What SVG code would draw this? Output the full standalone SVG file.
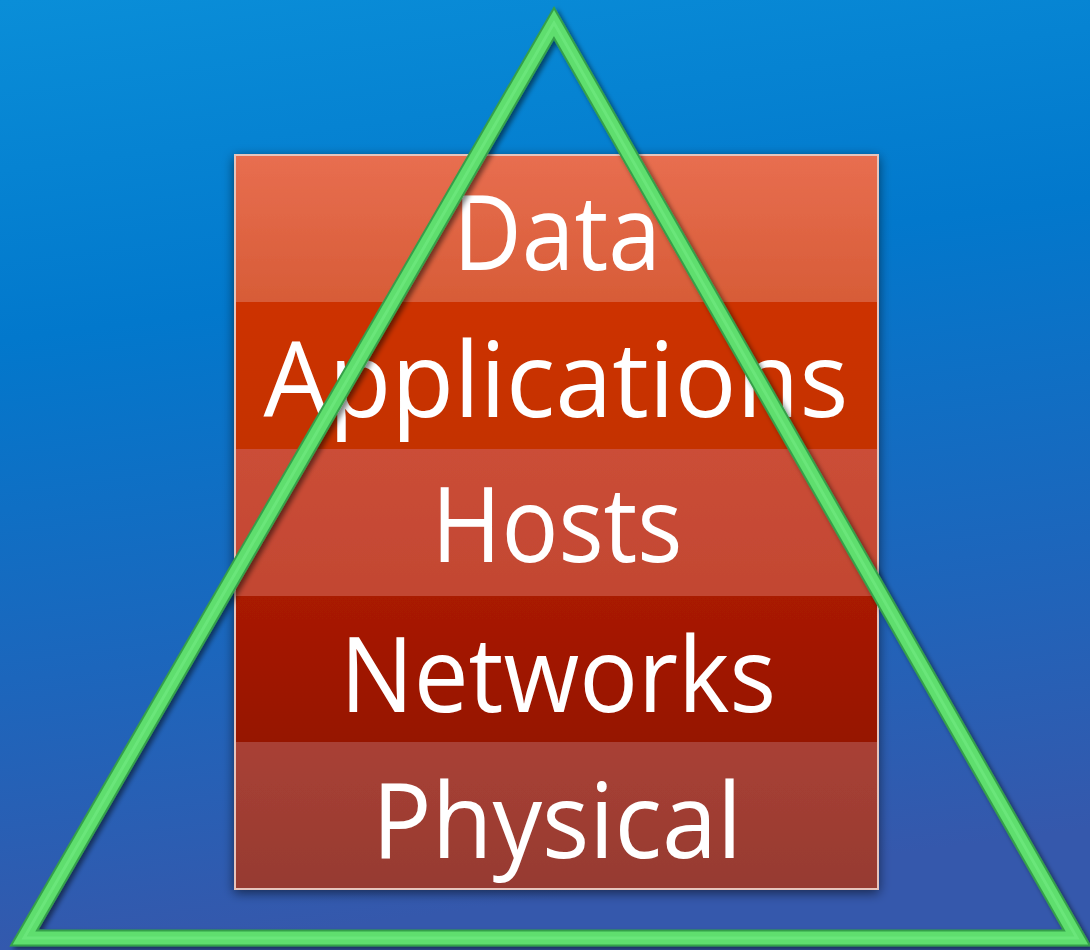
<svg xmlns="http://www.w3.org/2000/svg" width="1090" height="950" viewBox="0 0 1090 950">
  <defs>
    <linearGradient id="bg" x1="0" y1="0" x2="0.15" y2="1">
      <stop offset="0" stop-color="#0a8ed8"/>
      <stop offset="0.35" stop-color="#0278cc"/>
      <stop offset="0.7" stop-color="#1c66bc"/>
      <stop offset="1" stop-color="#3558ac"/>
    </linearGradient>
    <linearGradient id="band1" x1="0" y1="0" x2="0" y2="1">
      <stop offset="0" stop-color="#e86e50"/>
      <stop offset="1" stop-color="#d75c37"/>
    </linearGradient>
    <linearGradient id="band2" x1="0" y1="0" x2="0" y2="1">
      <stop offset="0" stop-color="#cd3300"/>
      <stop offset="1" stop-color="#c43000"/>
    </linearGradient>
    <linearGradient id="band3" x1="0" y1="0" x2="0" y2="1">
      <stop offset="0" stop-color="#cb4e37"/>
      <stop offset="1" stop-color="#c24632"/>
    </linearGradient>
    <linearGradient id="band4" x1="0" y1="0" x2="0" y2="1">
      <stop offset="0" stop-color="#a91a00"/>
      <stop offset="1" stop-color="#961400"/>
    </linearGradient>
    <linearGradient id="band5" x1="0" y1="0" x2="0" y2="1">
      <stop offset="0" stop-color="#a94135"/>
      <stop offset="1" stop-color="#963a31"/>
    </linearGradient>
    <filter id="boxShadow" x="-10%" y="-10%" width="120%" height="120%">
      <feGaussianBlur in="SourceAlpha" stdDeviation="6"/>
      <feOffset dx="0" dy="3" result="b"/>
      <feComponentTransfer><feFuncA type="linear" slope="0.55"/></feComponentTransfer>
      <feMerge><feMergeNode/><feMergeNode in="SourceGraphic"/></feMerge>
    </filter>
    <filter id="lineShadow" x="-10%" y="-10%" width="120%" height="120%">
      <feGaussianBlur in="SourceAlpha" stdDeviation="2.5"/>
      <feOffset dx="3" dy="3"/>
      <feComponentTransfer><feFuncA type="linear" slope="0.5"/></feComponentTransfer>
      <feMerge><feMergeNode/><feMergeNode in="SourceGraphic"/></feMerge>
    </filter>
  </defs>
  <style>
    .label { font-family: "Open Sans", "Liberation Sans", sans-serif; font-size: 104px; fill: #ffffff; text-anchor: middle; }
    .edge { fill: none; stroke-linejoin: miter; stroke-miterlimit: 10; }
  </style>

  <!-- background -->
  <rect x="0" y="0" width="1090" height="950" fill="url(#bg)"/>

  <!-- layered stack -->
  <g id="stack" filter="url(#boxShadow)">
    <g id="layer-data">
      <rect x="235" y="155" width="643" height="147" fill="url(#band1)"/>
      <text class="label" x="557" y="270" textLength="208" lengthAdjust="spacingAndGlyphs">Data</text>
    </g>
    <g id="layer-applications">
      <rect x="235" y="302" width="643" height="147" fill="url(#band2)"/>
      <text class="label" x="556" y="417" textLength="585" lengthAdjust="spacingAndGlyphs">Applications</text>
    </g>
    <g id="layer-hosts">
      <rect x="235" y="449" width="643" height="147" fill="url(#band3)"/>
      <text class="label" x="557" y="562" textLength="251" lengthAdjust="spacingAndGlyphs">Hosts</text>
    </g>
    <g id="layer-networks">
      <rect x="235" y="596" width="643" height="146" fill="url(#band4)"/>
      <text class="label" x="558" y="712" textLength="436" lengthAdjust="spacingAndGlyphs">Networks</text>
    </g>
    <g id="layer-physical">
      <rect x="235" y="742" width="643" height="147" fill="url(#band5)"/>
      <text class="label" x="557" y="858" textLength="370" lengthAdjust="spacingAndGlyphs">Physical</text>
    </g>
    <rect x="235" y="155" width="643" height="734" fill="none" stroke="#e6c4bc" stroke-width="2"/>
  </g>

  <!-- triangle outline -->
  <g id="connectors" filter="url(#lineShadow)">
    <path class="edge" d="M554,23 L1077,938 L24,938 Z" stroke="#35a04a" stroke-width="17"/>
    <path class="edge" d="M554,23 L1077,938 L24,938 Z" stroke="#5ede6e" stroke-width="13"/>
    <path class="edge" d="M554,23 L1077,938 L24,938 Z" stroke="#7af08a" stroke-width="3" opacity="0.45"/>
  </g>
</svg>
